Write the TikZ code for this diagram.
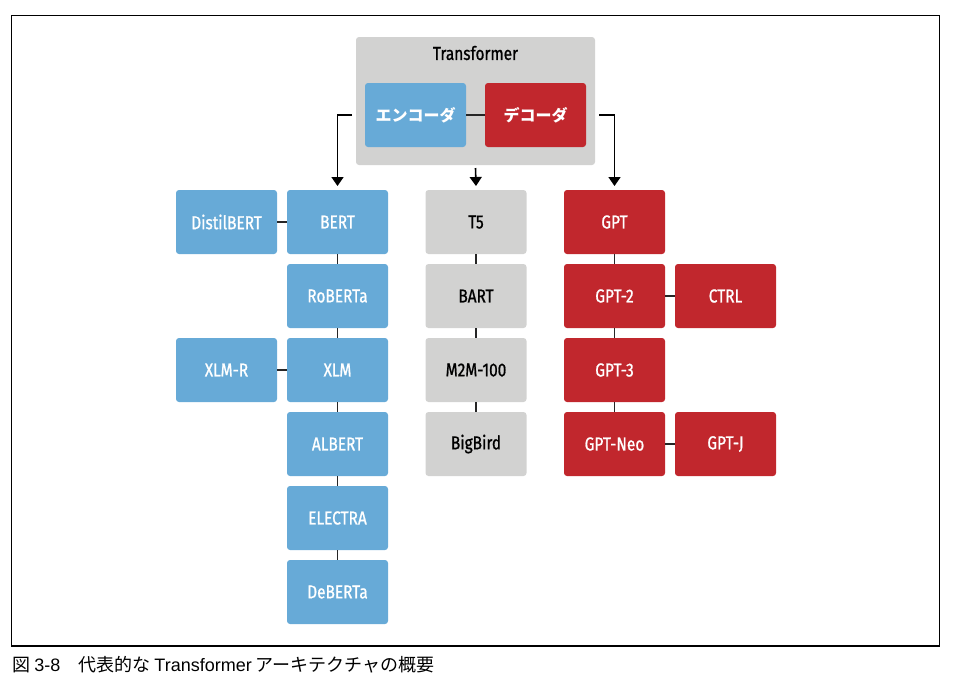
\documentclass[tikz,border=0pt]{standalone}
\usepackage{fontspec}
\setmainfont{Fira Sans}[FakeStretch=0.82, FakeBold=0.9]
\newfontfamily\jpfont{Noto Sans CJK JP}
\newfontfamily\latfont{Liberation Sans}
\usetikzlibrary{positioning}
\usetikzlibrary{arrows.meta}

\definecolor{encblue}{RGB}{103,170,215}
\definecolor{decred}{RGB}{193,39,45}
\definecolor{boxgray}{RGB}{210,210,209}

\tikzset{
  model/.style={rounded corners=1.5pt, minimum width=50.5pt, minimum height=32pt,
    inner sep=0pt, outer sep=0pt, font=\fontsize{9.4}{11}\selectfont},
  encmodel/.style={model, fill=encblue, text=white},
  decmodel/.style={model, fill=decred, text=white},
  mixmodel/.style={model, fill=boxgray, text=black},
  link/.style={line width=0.8pt, draw=black!85},
  feed/.style={line width=0.8pt, -{Triangle[width=6pt,length=4.5pt]}},
}

\begin{document}
\begin{tikzpicture}[x=0.5pt,y=-0.5pt, node distance=5pt]
    \useasboundingbox (0,0) rectangle (961,687);
    \draw[line width=0.7pt] (11.5,15.5) rectangle (939.5,646);

    % Transformer block
    \node[fill=boxgray, rounded corners=1.5pt, minimum width=119.5pt, minimum height=64pt, inner sep=0pt, outer sep=0pt] (tr) at (475.5,101) {};
    \node[font=\fontsize{9.4}{11}\selectfont] (trtitle) at (475.5,53) {Transformer};
    \node[encmodel, font=\jpfont\bfseries\fontsize{8}{10}\selectfont] (enc) at (415.5,115) {エンコーダ};
    \node[decmodel, font=\jpfont\bfseries\fontsize{8}{10}\selectfont] (dec) at (535.5,115) {デコーダ};
    \draw[link] (enc) -- (dec);

    % encoder family
    \node[encmodel] (bert) at (337.5,222) {BERT};
    \node[encmodel, left=of bert] (distil) {DistilBERT};
    \node[encmodel, below=of bert] (roberta) {RoBERTa};
    \node[encmodel, below=of roberta] (xlm) {XLM};
    \node[encmodel, left=of xlm] (xlmr) {XLM-R};
    \node[encmodel, below=of xlm] (albert) {ALBERT};
    \node[encmodel, below=of albert] (electra) {ELECTRA};
    \node[encmodel, below=of electra] (deberta) {DeBERTa};
    \draw[link] (distil) -- (bert);
    \draw[link] (xlmr) -- (xlm);
    \draw[link] (bert) -- (roberta) -- (xlm) -- (albert) -- (electra) -- (deberta);

    % encoder-decoder family
    \node[mixmodel] (t5) at (476,222) {T5};
    \node[mixmodel, below=of t5] (bart) {BART};
    \node[mixmodel, below=of bart] (m2m) {M2M-100};
    \node[mixmodel, below=of m2m] (bigbird) {BigBird};
    \draw[link] (t5) -- (bart) -- (m2m) -- (bigbird);

    % decoder family
    \node[decmodel] (gpt) at (614.5,222) {GPT};
    \node[decmodel, below=of gpt] (gpt2) {GPT-2};
    \node[decmodel, right=of gpt2] (ctrl) {CTRL};
    \node[decmodel, below=of gpt2] (gpt3) {GPT-3};
    \node[decmodel, below=of gpt3] (gptneo) {GPT-Neo};
    \node[decmodel, right=of gptneo] (gptj) {GPT-J};
    \draw[link] (gpt) -- (gpt2) -- (gpt3) -- (gptneo);
    \draw[link] (gpt2) -- (ctrl);
    \draw[link] (gptneo) -- (gptj);

    % arrows from the Transformer block
    \draw[feed] ([xshift=-2pt]tr.west |- enc) -| ([yshift=2pt]bert.north);
    \draw[feed] ([yshift=-1.5pt]tr.south) -- ([yshift=2pt]t5.north);
    \draw[feed] ([xshift=2pt]tr.east |- dec) -| ([yshift=2pt]gpt.north);

    % caption
    \node[anchor=west, inner sep=0pt, font=\jpfont\fontsize{9}{10}\selectfont] (caption) at (12,665)
      {図\hspace{2pt}{\latfont 3-8}　代表的な {\latfont Transformer} アーキテクチャの概要};
  \end{tikzpicture}
\end{document}
